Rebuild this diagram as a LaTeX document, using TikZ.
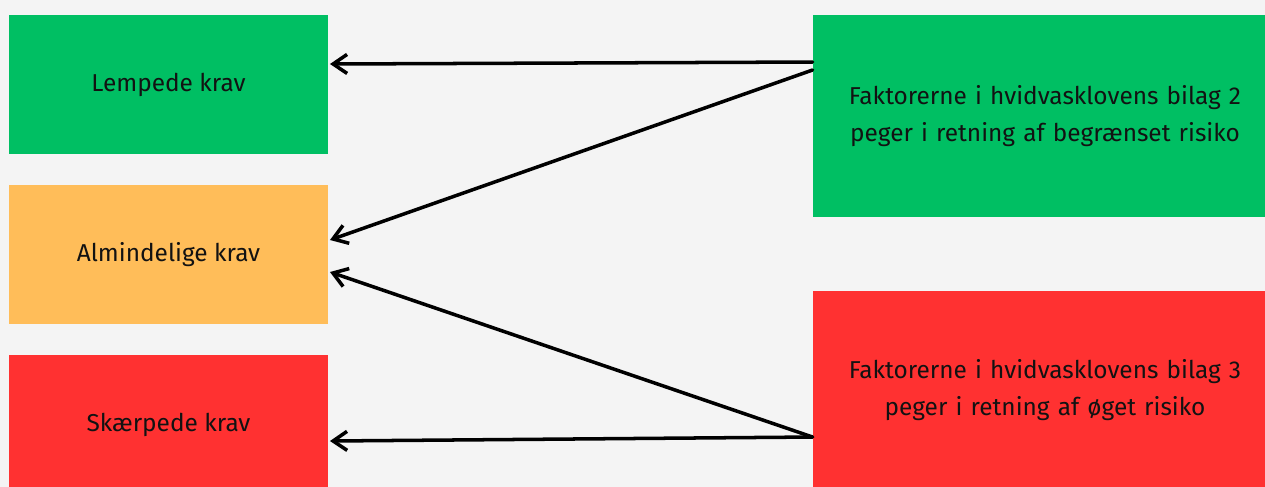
\documentclass[tikz,border=0pt]{standalone}
\usepackage{fontspec}
\setmainfont{Fira Sans}
\usetikzlibrary{arrows.meta,calc}

\definecolor{baggrund}{HTML}{F4F4F4}
\definecolor{groen}{HTML}{00BF63}
\definecolor{gul}{HTML}{FFBD59}
\definecolor{roed}{HTML}{FF3131}

\begin{document}
\begin{tikzpicture}[
		x=0.02cm, y=-0.02cm,
		boks/.style={inner sep=0pt, outer sep=0pt, align=center, text=black!93,
			font=\fontsize{13.9pt}{21pt}\selectfont},
		krav/.style={boks, minimum width=6.38cm, minimum height=2.78cm},
		bilag/.style={boks, minimum width=9.3cm, text width=9cm},
		pil/.style={-{Straight Barb[length=0.28cm, width=0.38cm, line width=2pt]}, line width=2pt, black, line cap=round}]
	
	%% baggrund og ramme
	\fill[baggrund] (0,0) rectangle (1265,487);
	\useasboundingbox (0,0) rectangle (1265,487);
	
	%% --- kravniveauer (venstre) ---
	\node[krav, fill=groen] (lempede) at (168.5,84.5) {Lempede krav};
	\node[krav, fill=gul] (almindelige) at (168.5,254.5) {Almindelige krav};
	\node[krav, fill=roed] (skaerpede) at (168.5,424.5) {Skærpede krav};
	
	%% --- faktorer (hoejre) ---
	\node[bilag, fill=groen, minimum height=4.04cm] (bilagto) at (1045,116)
		{Faktorerne i hvidvasklovens bilag 2\\peger i retning af begrænset risiko};
	\node[bilag, fill=roed, minimum height=3.96cm] (bilagtre) at (1045,390)
		{Faktorerne i hvidvasklovens bilag 3\\peger i retning af øget risiko};
	
	%% --- pilenes endepunkter ---
	\coordinate (toA) at ($(bilagto.north west)+(0,47)$);
	\coordinate (toB) at ($(bilagto.north west)+(0,55)$);
	\coordinate (treA) at ($(bilagtre.north west)+(0,146)$);
	
	%% --- pile fra faktorer til krav ---
	\draw[pil] (toA) -- ($(lempede.north east)+(2,49)$);
	\draw[pil] (toB) -- ($(almindelige.north east)+(2,55)$);
	\draw[pil] (treA) -- ($(almindelige.north east)+(2,87)$);
	\draw[pil] (treA) -- ($(skaerpede.north east)+(2,86)$);
	
\end{tikzpicture}
\end{document}
